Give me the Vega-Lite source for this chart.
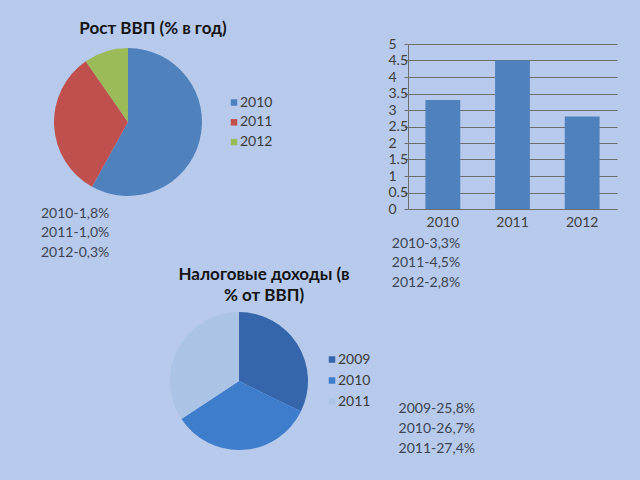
{
  "$schema": "https://vega.github.io/schema/vega-lite/v6.json",
  "background": "#b7caec",
  "padding": {"left": 40, "top": 20, "right": 23, "bottom": 2},
  "autosize": {"type": "pad"},
  "datasets": {
    "gdp": [
      {"year": "2010", "value": 1.8, "label": "2010-1,8%"},
      {"year": "2011", "value": 1.0, "label": "2011-1,0%"},
      {"year": "2012", "value": 0.3, "label": "2012-0,3%"}
    ],
    "growth": [
      {"year": "2010", "value": 3.3, "label": "2010-3,3%"},
      {"year": "2011", "value": 4.5, "label": "2011-4,5%"},
      {"year": "2012", "value": 2.8, "label": "2012-2,8%"}
    ],
    "tax": [
      {"year": "2009", "value": 25.8, "label": "2009-25,8%"},
      {"year": "2010", "value": 26.7, "label": "2010-26,7%"},
      {"year": "2011", "value": 27.4, "label": "2011-27,4%"}
    ]
  },
  "columns": 2,
  "spacing": {"row": 0, "column": 0},
  "bounds": "flush",
  "resolve": {"scale": {"color": "independent"}, "legend": {"color": "independent"}},
  "concat": [
    {
      "data": {"name": "gdp"},
      "width": 116,
      "height": 156,
      "title": {"text": "Рост ВВП (% в год)", "dx": 25, "offset": 6},
      "mark": {"type": "arc", "outerRadius": 74},
      "encoding": {
        "theta": {"field": "value", "type": "quantitative", "stack": true},
        "color": {
          "field": "year",
          "type": "nominal",
          "scale": {"domain": ["2010", "2011", "2012"], "range": ["#4f81bd", "#c0504d", "#9bbb59"]},
          "legend": {"title": null, "orient": "none", "legendX": 157, "legendY": 51.5, "rowPadding": 5.8}
        }
      }
    },
    {
      "data": {"name": "growth"},
      "width": 209,
      "height": 165,
      "mark": {"type": "bar", "color": "#4f81bd"},
      "encoding": {
        "x": {
          "field": "year",
          "type": "ordinal",
          "scale": {"paddingInner": 0.5, "paddingOuter": 0.25},
          "axis": {"title": null, "labelAngle": 0, "ticks": false, "tickSize": 0, "labelPadding": 6, "domainColor": "#6e6e6e", "labelFontSize": 14, "labelColor": "#404040"}
        },
        "y": {
          "field": "value",
          "type": "quantitative",
          "scale": {"domain": [0, 5], "nice": false},
          "axis": {
            "title": null,
            "values": [0, 0.5, 1, 1.5, 2, 2.5, 3, 3.5, 4, 4.5, 5],
            "format": "~g",
            "labelAlign": "left",
            "labelPadding": 16,
            "tickSize": 4,
            "gridColor": "#6e6e6e",
            "tickColor": "#6e6e6e",
            "domainColor": "#6e6e6e",
            "labelFontSize": 14,
            "labelColor": "#404040"
          }
        }
      }
    },
    {
      "data": {"name": "gdp"},
      "width": 78.6,
      "height": 44,
      "mark": {"type": "text", "align": "right", "baseline": "middle", "fontSize": 14, "color": "#3c4452"},
      "encoding": {
        "y": {"field": "year", "type": "ordinal", "axis": null, "scale": {"type": "point", "padding": 0.128, "align": 1}},
        "text": {"field": "label"}
      }
    },
    {
      "data": {"name": "growth"},
      "width": 36,
      "height": 74,
      "mark": {"type": "text", "align": "center", "baseline": "middle", "fontSize": 14, "color": "#3c4452"},
      "encoding": {
        "y": {"field": "year", "type": "ordinal", "axis": null, "scale": {"type": "point", "padding": 0.897, "align": 1}},
        "text": {"field": "label"}
      }
    },
    {
      "data": {"name": "tax"},
      "width": 338,
      "height": 196,
      "title": {"text": ["Налоговые доходы (в", "% от ВВП)"], "dx": 25, "offset": -22, "lineHeight": 21},
      "mark": {"type": "arc", "outerRadius": 69},
      "encoding": {
        "theta": {"field": "value", "type": "quantitative", "stack": true},
        "color": {
          "field": "year",
          "type": "nominal",
          "scale": {"domain": ["2009", "2010", "2011"], "range": ["#3565ab", "#3e7ccc", "#abc4e6"]},
          "legend": {"title": null, "orient": "none", "legendX": 255, "legendY": 69.5, "rowPadding": 7}
        }
      }
    },
    {
      "data": {"name": "tax"},
      "width": 134,
      "height": 166,
      "mark": {"type": "text", "align": "right", "baseline": "middle", "fontSize": 14, "color": "#3c4452"},
      "encoding": {
        "y": {"field": "year", "type": "quantitative", "axis": null, "scale": {"domain": [2002.7, 2011], "reverse": true, "nice": false, "zero": false}},
        "text": {"field": "label"}
      }
    }
  ],
  "config": {
    "font": "Lato, 'Open Sans', sans-serif",
    "view": {"stroke": null},
    "title": {"fontSize": 17, "fontWeight": "bold", "color": "#141414"},
    "legend": {"labelFontSize": 14, "labelColor": "#3a3a3a", "symbolType": "square", "symbolSize": 42, "symbolStrokeWidth": 0, "labelOffset": -1},
    "axis": {"labelFont": "Lato, 'Open Sans', sans-serif"}
  }
}
